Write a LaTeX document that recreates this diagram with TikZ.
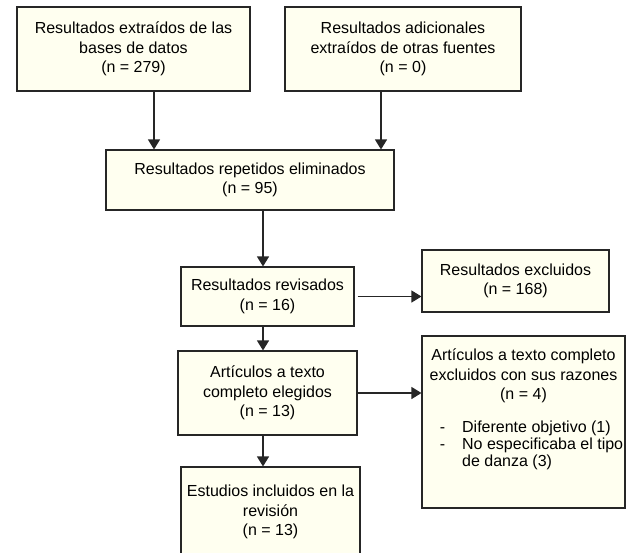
\documentclass[tikz,border=0pt]{standalone}
\usepackage{fontspec}
\setmainfont{Liberation Sans}
\usetikzlibrary{arrows.meta}
\definecolor{boxfill}{RGB}{255,255,240}
\begin{document}
\begin{tikzpicture}[x=1pt,y=-1pt,
  box/.style={draw=black!85,line width=1.1pt,fill=boxfill,inner sep=0pt,align=center,font=\fontsize{16}{19.5}\selectfont},
  arr/.style={draw=black!85,line width=1.1pt,-{Triangle[width=12pt,length=10pt]}}]
\useasboundingbox (0,0) rectangle (628,552);
\node[box,minimum width=233,minimum height=84] (bases) at (133.5,49) {Resultados extraídos de las\\bases de datos\\(n = 279)};
\node[box,minimum width=236,minimum height=84] (otras) at (403,49) {Resultados adicionales\\extraídos de otras fuentes\\(n = 0)};
\node[box,minimum width=288,minimum height=60] (repetidos) at (250,180) {Resultados repetidos eliminados\\(n = 95)};
\node[box,minimum width=173,minimum height=59] (revisados) at (267.5,296.5) {Resultados revisados\\(n = 16)};
\node[box,minimum width=187,minimum height=62] (excluidos) at (515.5,281) {Resultados excluidos\\(n = 168)};
\node[box,minimum width=179,minimum height=84] (elegidos) at (267.5,393) {Artículos a texto\\completo elegidos\\(n = 13)};
\node[box,minimum width=203,minimum height=172] (razones) at (523.5,422) {};
\node[box,draw=none,fill=none] (razhead) at (523.5,376) {Artículos a texto completo\\excluidos con sus razones\\(n = 4)};
\node[box,draw=none,fill=none,font=\fontsize{16}{17}\selectfont] (razlist) at (531.5,446) {\begin{tabular}{@{}l@{\hspace{17pt}}l@{}}-&Diferente objetivo (1)\\-&No especificaba el tipo\\&de danza (3)\end{tabular}};
\node[box,minimum width=179,minimum height=90] (incluidos) at (270.5,512) {Estudios incluidos en la\\revisión\\(n = 13)};
\draw[arr] ([xshift=20.5pt]bases.south) -- ([xshift=20.5pt]bases.south |- repetidos.north);
\draw[arr] ([xshift=-22pt]otras.south) -- ([xshift=-22pt]otras.south |- repetidos.north);
\draw[arr] ([xshift=-4.5pt]revisados.north |- repetidos.south) -- ([xshift=-4.5pt]revisados.north);
\draw[arr] ([xshift=3pt]revisados.east) -- (revisados.east -| excluidos.west);
\draw[arr] ([xshift=-4.5pt]revisados.south) -- ([xshift=-4.5pt]revisados.south |- elegidos.north);
\draw[arr] (elegidos.east) -- (elegidos.east -| razones.west);
\draw[arr] ([xshift=-4.5pt]elegidos.south) -- ([xshift=-4.5pt]elegidos.south |- incluidos.north);
\end{tikzpicture}
\end{document}
